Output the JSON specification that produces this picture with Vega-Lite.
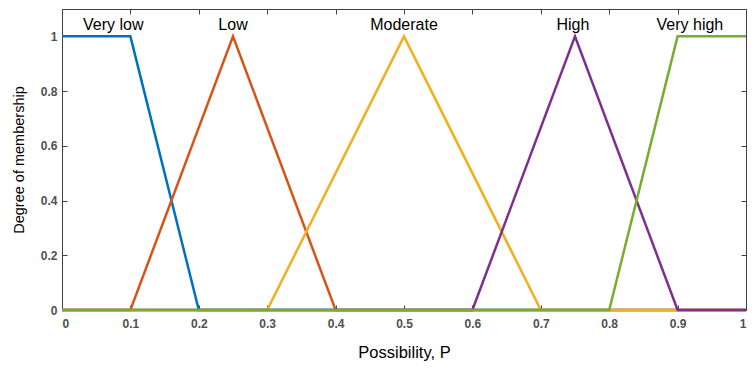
{
  "$schema": "https://vega.github.io/schema/vega-lite/v6.json",
  "width": 684,
  "height": 301,
  "autosize": {"type": "none"},
  "padding": {"left": 62, "top": 9, "right": 10, "bottom": 62},
  "background": "white",
  "config": {
    "view": {"stroke": "#404040", "strokeWidth": 1},
    "font": "Liberation Sans",
    "axis": {
      "grid": false,
      "domainColor": "#404040",
      "tickColor": "#404040",
      "labelColor": "#505050",
      "labelFont": "Liberation Sans",
      "labelFontWeight": "bold",
      "labelFontSize": 12,
      "titleFont": "Liberation Sans",
      "titleFontWeight": "normal",
      "titleFontSize": 14,
      "titleColor": "#000000"
    }
  },
  "datasets": {
    "curves": [
      {"series": "Very low", "order": 1, "p": 0, "m": 1},
      {"series": "Very low", "order": 2, "p": 0.1, "m": 1},
      {"series": "Very low", "order": 3, "p": 0.2, "m": 0},
      {"series": "Very low", "order": 4, "p": 1, "m": 0},
      {"series": "Low", "order": 1, "p": 0, "m": 0},
      {"series": "Low", "order": 2, "p": 0.1, "m": 0},
      {"series": "Low", "order": 3, "p": 0.25, "m": 1},
      {"series": "Low", "order": 4, "p": 0.4, "m": 0},
      {"series": "Low", "order": 5, "p": 1, "m": 0},
      {"series": "Moderate", "order": 1, "p": 0, "m": 0},
      {"series": "Moderate", "order": 2, "p": 0.3, "m": 0},
      {"series": "Moderate", "order": 3, "p": 0.5, "m": 1},
      {"series": "Moderate", "order": 4, "p": 0.7, "m": 0},
      {"series": "Moderate", "order": 5, "p": 1, "m": 0},
      {"series": "High", "order": 1, "p": 0, "m": 0},
      {"series": "High", "order": 2, "p": 0.6, "m": 0},
      {"series": "High", "order": 3, "p": 0.75, "m": 1},
      {"series": "High", "order": 4, "p": 0.9, "m": 0},
      {"series": "High", "order": 5, "p": 1, "m": 0},
      {"series": "Very high", "order": 1, "p": 0, "m": 0},
      {"series": "Very high", "order": 2, "p": 0.8, "m": 0},
      {"series": "Very high", "order": 3, "p": 0.9, "m": 1},
      {"series": "Very high", "order": 4, "p": 1, "m": 1}
    ],
    "labels": [
      {"label": "Very low", "p": 0.075, "m": 1.025},
      {"label": "Low", "p": 0.25, "m": 1.025},
      {"label": "Moderate", "p": 0.5, "m": 1.025},
      {"label": "High", "p": 0.747, "m": 1.025},
      {"label": "Very high", "p": 0.918, "m": 1.025}
    ]
  },
  "layer": [
    {
      "data": {"name": "curves"},
      "encoding": {
        "x": {
          "field": "p", "type": "quantitative",
          "scale": {"domain": [0, 1], "nice": false, "zero": false},
          "axis": {"orient": "bottom", "values": [0, 0.1, 0.2, 0.3, 0.4, 0.5, 0.6, 0.7, 0.8, 0.9, 1], "format": ".1~f", "tickSize": -5, "labelPadding": 13, "title": "Possibility, P", "titlePadding": 15, "titleFontSize": 16.5}
        },
        "y": {
          "field": "m", "type": "quantitative",
          "scale": {"domain": [0, 1.1], "nice": false},
          "axis": {"orient": "left", "values": [0, 0.2, 0.4, 0.6, 0.8, 1], "format": ".1~f", "tickSize": -5, "labelPadding": 10, "title": "Degree of membership", "titlePadding": 14, "titleFontSize": 14.5}
        },
        "color": {
          "field": "series", "type": "nominal",
          "scale": {"domain": ["Very low", "Low", "Moderate", "High", "Very high"], "range": ["#0072BD", "#D95319", "#EDB120", "#7E2F8E", "#77AC30"]},
          "legend": null
        },
        "order": {"field": "order", "type": "quantitative"}
      },
      "layer": [
        {
          "transform": [{"filter": "datum.series === 'Very low'"}],
          "mark": {"type": "line", "strokeWidth": 2.5}
        },
        {
          "transform": [{"filter": "datum.series === 'Low'"}],
          "mark": {"type": "line", "strokeWidth": 2.5}
        },
        {
          "transform": [{"filter": "datum.series === 'Moderate'"}],
          "mark": {"type": "line", "strokeWidth": 2.5}
        },
        {
          "transform": [{"filter": "datum.series === 'High'"}],
          "mark": {"type": "line", "strokeWidth": 2.5}
        },
        {
          "transform": [{"filter": "datum.series === 'Very high'"}],
          "mark": {"type": "line", "strokeWidth": 2.5}
        }
      ]
    },
    {
      "data": {"name": "labels"},
      "mark": {"type": "text", "fontSize": 16, "baseline": "alphabetic", "align": "center", "color": "#000000", "font": "Liberation Sans"},
      "encoding": {
        "x": {"field": "p", "type": "quantitative", "axis": {"orient": "top", "values": [0, 0.1, 0.2, 0.3, 0.4, 0.5, 0.6, 0.7, 0.8, 0.9, 1], "labels": false, "domain": false, "tickSize": -5, "title": null}},
        "y": {"field": "m", "type": "quantitative", "axis": {"orient": "right", "values": [0, 0.2, 0.4, 0.6, 0.8, 1], "labels": false, "domain": false, "tickSize": -5, "title": null}},
        "text": {"field": "label"}
      }
    }
  ],
  "resolve": {"axis": {"x": "independent", "y": "independent"}}
}
